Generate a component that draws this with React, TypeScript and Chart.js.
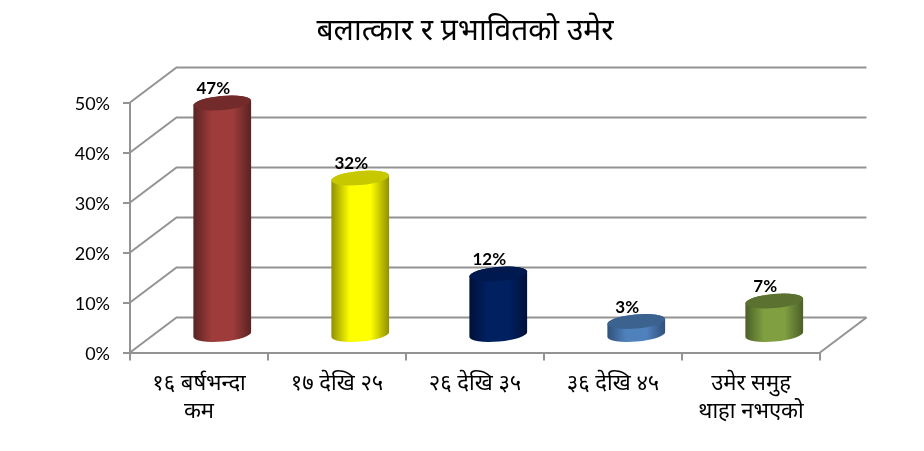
import React, { useEffect, useRef } from "react";
import { Chart, registerables } from "chart.js";

Chart.register(...registerables);

const titleText = "बलात्कार र प्रभावितको उमेर";
const categories: string[][] = [
  ["१६ बर्षभन्दा", "कम"],
  ["१७ देखि २५"],
  ["२६ देखि ३५"],
  ["३६ देखि ४५"],
  ["उमेर समुह", "थाहा नभएको"],
];
const shares = [46.5, 31.5, 12.3, 2.8, 6.9];
const centerColors = ["#9e3c3b", "#ffff00", "#002060", "#4f81bd", "#7f9f41"];
const edgeColors = ["#5a2222", "#8f8f00", "#00113a", "#30507a", "#4a5f26"];
const capColors = ["#722a2a", "#c8c800", "#001a4f", "#3c6290", "#5a7130"];

const GRID = "#939393";
const DEPTH_X = 46.5;
const DEPTH_Y = 35;
const LATIN = "Lato, 'Open Sans', sans-serif";
const DEVA = "'Noto Sans', 'Noto Sans Devanagari', 'Lohit Devanagari', sans-serif";

const tilt = (-5 * Math.PI) / 180;

const scene3d = {
  id: "scene3d",
  afterLayout(chart: any) {
    const t = chart.titleBlock;
    if (t) {
      t.left = 0;
      t.right = 930;
      t.width = 930;
    }
  },
  beforeDraw(chart: any) {
    // Lato's digits sit above the em-box middle: lower the value-axis labels onto their ticks.
    chart.scales.y.getLabelItems(chart.chartArea).forEach((item: any) => {
      if (!item.options.shifted) {
        item.options.translation = [item.options.translation[0], item.options.translation[1] + 2];
        item.options.shifted = true;
      }
    });
  },
  beforeDatasetsDraw(chart: any) {
    const { ctx, scales } = chart;
    const y = scales.y;
    const x = scales.x;
    ctx.save();
    ctx.strokeStyle = GRID;
    ctx.lineWidth = 2;
    y.ticks.forEach((tk: any) => {
      const py = y.getPixelForValue(tk.value);
      ctx.beginPath();
      ctx.moveTo(x.left, py);
      ctx.lineTo(x.left + DEPTH_X, py - DEPTH_Y);
      ctx.lineTo(x.right + DEPTH_X, py - DEPTH_Y);
      ctx.stroke();
    });
    const py0 = y.getPixelForValue(0);
    ctx.beginPath();
    ctx.moveTo(x.right, py0);
    ctx.lineTo(x.right + DEPTH_X, py0 - DEPTH_Y);
    ctx.stroke();
    ctx.restore();
  },
  afterDatasetsDraw(chart: any) {
    const { ctx } = chart;
    const meta = chart.getDatasetMeta(0);
    const values = chart.data.datasets[0].data as number[];
    meta.data.forEach((el: any, i: number) => {
      const cx = el.x + DEPTH_X / 2;
      const top = el.y - DEPTH_Y / 2 + 0.5;
      const base = el.base - DEPTH_Y / 2 + 0.5;
      const rx = el.width / 2;
      const ry = rx * 0.245;
      const g = ctx.createLinearGradient(cx - rx, 0, cx + rx, 0);
      g.addColorStop(0, edgeColors[i]);
      g.addColorStop(0.32, centerColors[i]);
      g.addColorStop(0.68, centerColors[i]);
      g.addColorStop(1, edgeColors[i]);
      ctx.save();
      ctx.fillStyle = g;
      ctx.beginPath();
      ctx.ellipse(cx, base, rx, ry, tilt, 0, Math.PI);
      ctx.ellipse(cx, top, rx, ry, tilt, Math.PI, 2 * Math.PI);
      ctx.closePath();
      ctx.fill();
      ctx.fillStyle = capColors[i];
      ctx.beginPath();
      ctx.ellipse(cx, top, rx, ry, tilt, 0, 2 * Math.PI);
      ctx.fill();
      ctx.fillStyle = "#000";
      ctx.font = `bold 17px ${LATIN}`;
      ctx.textAlign = "center";
      ctx.textBaseline = "middle";
      ctx.fillText(`${Math.round(values[i])}%`, cx - 9, top - 14);
      ctx.restore();
    });
  },
};

export default function App() {
  const ref = useRef<HTMLCanvasElement | null>(null);
  useEffect(() => {
    if (!ref.current) return;
    const chart = new Chart(ref.current, {
      type: "bar",
      data: {
        labels: categories as any,
        datasets: [
          {
            data: shares,
            backgroundColor: "rgba(0,0,0,0)",
            barPercentage: 1,
            categoryPercentage: 0.42,
          },
        ],
      },
      options: {
        responsive: false,
        animation: false,
        layout: { padding: { right: 104 } },
        plugins: {
          legend: { display: false },
          tooltip: { enabled: false },
          title: {
            display: true,
            text: titleText,
            color: "#000",
            font: { family: DEVA, size: 30, weight: "normal" },
            padding: { top: 13, bottom: 102.5 - 13 - 36 },
          },
        },
        scales: {
          x: {
            afterFit: (s: any) => {
              s.height = 98.5;
            },
            border: { color: GRID, width: 2 },
            grid: { color: GRID, lineWidth: 2, drawOnChartArea: false, tickLength: 8 },
            ticks: {
              color: "#000",
              maxRotation: 0,
              autoSkip: false,
              padding: 9,
              font: { family: DEVA, size: 22, lineHeight: 1.27 },
            },
          },
          y: {
            min: 0,
            max: 50,
            afterFit: (s: any) => {
              s.width = 130;
            },
            border: { color: GRID, width: 2 },
            grid: { color: GRID, lineWidth: 2, drawOnChartArea: false, tickLength: 7 },
            ticks: {
              stepSize: 10,
              color: "#000",
              padding: 13,
              font: { family: LATIN, size: 18 },
              callback: (v: any) => `${v}%`,
            },
          },
        },
      },
      plugins: [scene3d],
    } as any);
    return () => chart.destroy();
  }, []);
  return (
    <canvas
      ref={ref}
      width={924}
      height={451}
      style={{ position: "absolute", left: 0, top: 0, width: 924, height: 451, display: "block" }}
    />
  );
}
